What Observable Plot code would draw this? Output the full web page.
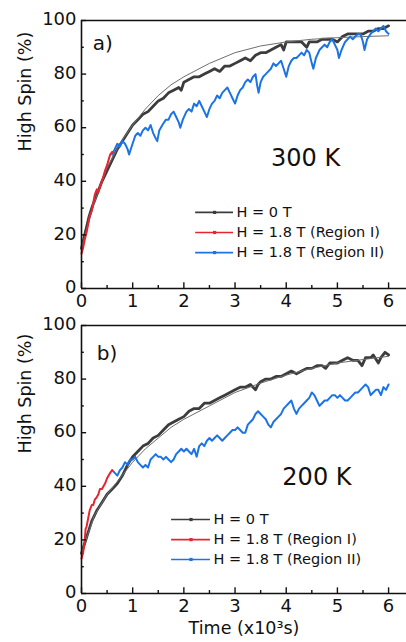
<!DOCTYPE html>
<html>
<head>
<meta charset="utf-8">
<script src="https://cdn.jsdelivr.net/npm/d3@7"></script>
<script src="https://cdn.jsdelivr.net/npm/@observablehq/plot@0.6"></script>
<style>
  html, body { margin: 0; padding: 0; background: #fff; }
  #chart { width: 406px; }
  #chart svg { display: block; }
</style>
</head>
<body>
<div id="chart"></div>
<script>
// ---------- data (time in 10^3 s, high-spin fraction in %) ----------
const seriesLabels = ["H = 0 T", "H = 1.8 T (Region I)", "H = 1.8 T (Region II)"];
const seriesColors = ["#3c3c3c", "#e8242e", "#1c74e4"];
const panelLabels = ["a)", "b)"];
const tempLabels = ["300 K", "200 K"];
const xTicks = [0, 1, 2, 3, 4, 5, 6];
const xMinor = [0.5, 1.5, 2.5, 3.5, 4.5, 5.5];
const yTicks = [0, 20, 40, 60, 80, 100];
const yMinor = [10, 30, 50, 70, 90];

// panel a) 300 K
const a_H0 = [[0,15],[0.05,19],[0.1,23],[0.15,27],[0.2,30],[0.3,35],[0.4,40],[0.5,44],[0.6,48],[0.7,52],[0.8,55],[0.9,58],[1.0,61],[1.1,63],[1.2,65],[1.3,66],[1.4,68],[1.5,70],[1.6,71],[1.7,73],[1.8,74],[1.9,75],[1.95,74],[2.0,77],[2.1,78],[2.2,79],[2.3,79],[2.4,80],[2.5,81],[2.6,82],[2.7,81],[2.8,83],[2.9,83],[3.0,84],[3.1,85],[3.2,86],[3.3,85],[3.4,87],[3.5,88],[3.6,88],[3.7,89],[3.8,90],[3.9,91],[3.95,89],[4.0,92],[4.1,92],[4.2,92],[4.3,92],[4.4,90],[4.45,92],[4.5,92],[4.6,92],[4.7,93],[4.8,93],[4.9,93],[5.0,92],[5.1,94],[5.2,95],[5.3,95],[5.4,95],[5.5,95],[5.6,96],[5.7,96],[5.8,97],[5.9,97],[6.0,98]];
const a_fit = [[0,15],[0.25,32],[0.5,45],[0.75,54],[1,61],[1.25,67],[1.5,72],[1.75,76],[2,79],[2.5,84],[3,88],[3.5,90.5],[4,92],[4.5,93],[5,93.6],[5.5,94],[6,94.3]];
const a_R1 = [[0,13],[0.03,15],[0.06,18],[0.1,21],[0.13,24],[0.16,27],[0.2,29],[0.23,32],[0.26,35],[0.3,37],[0.33,36],[0.36,38],[0.4,40],[0.43,42],[0.46,44],[0.5,46],[0.53,48],[0.56,50],[0.6,51]];
const a_R2 = [[0.6,50],[0.65,52],[0.7,54],[0.75,53],[0.8,55],[0.85,54],[0.9,52],[0.93,50],[0.98,53],[1.05,57],[1.1,58],[1.15,57],[1.2,59],[1.25,60],[1.3,59],[1.35,61],[1.4,58],[1.45,56],[1.48,55],[1.52,59],[1.58,61],[1.65,63],[1.7,63],[1.75,65],[1.8,66],[1.85,64],[1.9,62],[1.93,60],[1.98,63],[2.05,66],[2.1,67],[2.15,66],[2.2,69],[2.25,68],[2.3,70],[2.35,68],[2.4,66],[2.45,64],[2.5,67],[2.55,69],[2.6,70],[2.65,72],[2.7,71],[2.75,73],[2.8,74],[2.85,75],[2.9,73],[2.95,71],[3.0,69],[3.05,72],[3.1,74],[3.15,75],[3.2,77],[3.25,78],[3.3,77],[3.35,79],[3.4,80],[3.43,76],[3.46,73],[3.5,77],[3.55,79],[3.6,80],[3.65,81],[3.7,82],[3.75,84],[3.8,83],[3.85,84],[3.9,85],[3.95,82],[4.0,79],[4.05,83],[4.1,85],[4.15,86],[4.2,86],[4.25,87],[4.3,88],[4.35,87],[4.4,89],[4.45,88],[4.5,84],[4.53,82],[4.58,86],[4.65,89],[4.7,90],[4.75,91],[4.8,90],[4.85,92],[4.9,93],[4.95,91],[5.0,89],[5.03,86],[5.08,89],[5.15,92],[5.2,93],[5.25,94],[5.3,93],[5.35,94],[5.4,95],[5.45,95],[5.5,92],[5.53,89],[5.58,93],[5.65,95],[5.7,96],[5.75,97],[5.8,96],[5.85,97],[5.9,98],[5.95,96],[6.0,95]];

// panel b) 200 K
const b_H0 = [[0,15],[0.05,18],[0.1,21],[0.15,24],[0.2,27],[0.3,31],[0.4,34],[0.5,37],[0.6,39],[0.7,41],[0.8,44],[0.9,48],[1.0,51],[1.1,53],[1.2,55],[1.3,56],[1.4,58],[1.5,59],[1.6,61],[1.7,63],[1.8,64],[1.9,65],[2.0,66],[2.1,68],[2.2,69],[2.3,69],[2.4,71],[2.5,71],[2.6,72],[2.7,73],[2.8,74],[2.9,75],[3.0,76],[3.1,77],[3.2,77],[3.3,78],[3.4,76],[3.45,78],[3.5,79],[3.6,80],[3.7,80],[3.8,81],[3.9,81],[4.0,82],[4.1,83],[4.2,82],[4.3,83],[4.4,84],[4.5,84],[4.6,85],[4.7,85],[4.77,84],[4.85,86],[4.9,86],[5.0,86],[5.1,87],[5.2,88],[5.3,87],[5.4,87],[5.48,85],[5.55,88],[5.65,88],[5.7,89],[5.8,86],[5.85,88],[5.93,90],[6.0,89]];
const b_fit = [[0,15],[0.25,29],[0.5,37],[0.75,43],[1,49],[1.25,54],[1.5,58],[1.75,62],[2,65],[2.5,70],[3,75],[3.5,78.5],[4,81.5],[4.5,84],[5,86],[5.5,87.3],[6,88.5]];
const b_R1 = [[0,13],[0.03,15],[0.06,19],[0.08,24],[0.1,25],[0.13,28],[0.16,31],[0.2,33],[0.23,33],[0.26,35],[0.3,36],[0.33,37],[0.36,39],[0.4,39],[0.43,40],[0.46,41],[0.5,43],[0.53,44],[0.56,45],[0.6,46]];
const b_R2 = [[0.6,46],[0.65,45],[0.7,44],[0.75,46],[0.8,47],[0.85,49],[0.9,48],[0.95,50],[1.0,50],[1.05,51],[1.1,49],[1.15,48],[1.2,47],[1.25,48],[1.3,47],[1.35,50],[1.4,51],[1.45,52],[1.5,51],[1.55,51],[1.6,50],[1.65,51],[1.7,50],[1.75,49],[1.8,50],[1.85,52],[1.9,53],[1.95,54],[2.0,53],[2.05,54],[2.1,53],[2.15,52],[2.2,54],[2.25,51],[2.3,55],[2.35,56],[2.4,55],[2.45,57],[2.5,58],[2.55,57],[2.6,58],[2.65,59],[2.7,58],[2.75,57],[2.8,58],[2.85,59],[2.9,60],[2.95,61],[3.0,61],[3.05,62],[3.1,61],[3.15,60],[3.2,60],[3.25,63],[3.3,64],[3.35,65],[3.4,67],[3.45,68],[3.5,67],[3.55,66],[3.6,65],[3.65,63],[3.7,62],[3.75,64],[3.8,65],[3.85,66],[3.9,67],[3.95,69],[4.0,70],[4.05,71],[4.1,72],[4.15,69],[4.2,67],[4.25,69],[4.3,70],[4.35,71],[4.4,72],[4.45,73],[4.5,75],[4.55,74],[4.6,72],[4.65,70],[4.7,71],[4.75,72],[4.8,72],[4.85,73],[4.9,74],[4.95,74],[5.0,73],[5.05,74],[5.1,73],[5.15,72],[5.2,72],[5.25,73],[5.3,74],[5.35,75],[5.4,75],[5.45,76],[5.5,77],[5.55,78],[5.6,77],[5.65,74],[5.7,75],[5.75,76],[5.8,76],[5.85,74],[5.9,77],[5.95,76],[6.0,78]];

// ---------- drawing ----------
const FONT = "DejaVu Sans, Liberation Sans, Arial, sans-serif";

function panel(cfg) {
  const legendRows = seriesLabels.map((label, i) => ({
    label, color: seriesColors[i],
    y: cfg.legendY[i], x1: cfg.legendX[0], x2: cfg.legendX[1], xm: (cfg.legendX[0] + cfg.legendX[1]) / 2, xt: cfg.legendX[2]
  }));
  const lineStyle = (c, w) => ({x: d => d[0], y: d => d[1], stroke: c, strokeWidth: w, strokeLinejoin: "round"});
  return Plot.plot({
    width: 406,
    height: cfg.height,
    marginLeft: 81,
    marginRight: 0,
    marginTop: cfg.marginTop,
    marginBottom: cfg.marginBottom,
    x: {domain: [0, 6.35]},
    y: {domain: [0, 100]},
    style: {fontFamily: FONT, fontSize: "18px", color: "#111", background: "#fff", overflow: "visible"},
    marks: [
      // data
      Plot.line(cfg.H0, lineStyle(seriesColors[0], 2.8)),
      Plot.line(cfg.fit, lineStyle("#6e6e6e", 1)),
      Plot.line(cfg.R2, lineStyle(seriesColors[2], 2)),
      Plot.line(cfg.R1, lineStyle(seriesColors[1], 2)),
      // frame
      Plot.ruleX([0], {stroke: "#111", strokeWidth: 1.6}),
      Plot.ruleY([0, 100], {stroke: "#111", strokeWidth: 1.6}),
      // inward ticks
      Plot.ruleX(xTicks, {y1: 0, y2: 2.1, stroke: "#111", strokeWidth: 1.4}),
      Plot.ruleX(xMinor, {y1: 0, y2: 1.1, stroke: "#111", strokeWidth: 1.4}),
      Plot.ruleY(yTicks, {x1: 0, x2: 0.1, stroke: "#111", strokeWidth: 1.4}),
      Plot.ruleY(yMinor, {x1: 0, x2: 0.055, stroke: "#111", strokeWidth: 1.4}),
      // axes labels
      Plot.axisX(xTicks, {tickSize: 0, tickPadding: 6, label: null, fontSize: 18}),
      Plot.axisY(yTicks, {tickSize: 0, tickPadding: 5, dy: -1, label: null, fontSize: 18}),
      Plot.text(["High Spin (%)"], {frameAnchor: "left", rotate: -90, dx: -56, dy: cfg.yLabelDy, fontSize: 17.5, fill: "#111"}),
      cfg.xTitle ? Plot.text([cfg.xTitle], {frameAnchor: "bottom", dy: 40, fontSize: 17.5, fill: "#111"}) : null,
      // annotations
      Plot.text([cfg.panel], {x: cfg.panelPos[0], y: cfg.panelPos[1], textAnchor: "start", fontSize: 20, fill: "#111"}),
      Plot.text([cfg.temp], {x: cfg.tempPos[0], y: cfg.tempPos[1], fontSize: 24, fill: "#111"}),
      // legend
      Plot.ruleY(legendRows, {x1: "x1", x2: "x2", y: "y", stroke: "color", strokeWidth: 1.6}),
      Plot.dot(legendRows, {x: "xm", y: "y", fill: "color", r: 1.8, symbol: "square"}),
      Plot.text(legendRows, {x: "xt", y: "y", text: "label", textAnchor: "start", fontSize: 14.5, fill: "#111"})
    ]
  });
}

const chart = document.getElementById("chart");
chart.append(panel({
  height: 310, marginTop: 20, marginBottom: 22,
  H0: a_H0, fit: a_fit, R1: a_R1, R2: a_R2,
  panel: panelLabels[0], panelPos: [0.22, 91.5],
  temp: tempLabels[0], tempPos: [4.38, 48.5],
  legendX: [2.23, 2.97, 3.03], legendY: [28.4, 20.9, 13.4],
  yLabelDy: -3
}));
chart.append(panel({
  height: 332, marginTop: 15, marginBottom: 49,
  H0: b_H0, fit: b_fit, R1: b_R1, R2: b_R2,
  panel: panelLabels[1], panelPos: [0.3, 89.5],
  temp: tempLabels[1], tempPos: [4.6, 43.5],
  legendX: [1.76, 2.52, 2.58], legendY: [27.6, 20.1, 12.7],
  yLabelDy: -6,
  xTitle: "Time (x10³s)"
}));
</script>
</body>
</html>
